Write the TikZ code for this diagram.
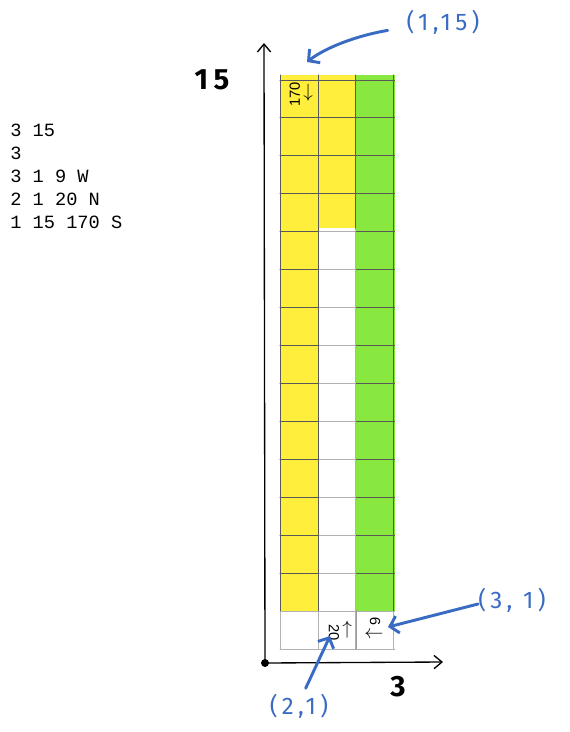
\documentclass[tikz,border=0pt]{standalone}
\usepackage{fontspec}
\setmainfont{Liberation Sans}
\newfontfamily\saisiefont{Liberation Mono}
\newfontfamily\mainfont{Fira Sans}[LetterSpace=18]
\usetikzlibrary{arrows.meta}

\definecolor{jaune}{HTML}{FFEE3B}
\definecolor{vert}{HTML}{88E840}
\definecolor{bleu}{HTML}{3A6BC2}

\begin{document}
\begin{tikzpicture}[line cap=round,line join=round,x=0.75pt,y=-0.75pt,
	axe/.style={line width=1pt,-{Straight Barb[length=6pt,width=10pt]}},
	fleche/.style={bleu,line width=2.2pt,-{Straight Barb[length=6pt,width=13pt]}},
	saisie/.style={font=\saisiefont\fontsize{14}{16}\selectfont,anchor=base west,inner sep=0pt},
	annot/.style={font=\mainfont\fontsize{18}{20}\selectfont,bleu,inner sep=0pt},
	taille/.style={font=\mainfont\bfseries\fontsize{22}{24}\selectfont,inner sep=0pt},
	clair/.style={black!30,line width=0.6pt},
	fonce/.style={black!65,line width=0.6pt},
	case/.style={font=\fontsize{11}{12}\selectfont,inner sep=0pt},
	sens/.style={font=\fontsize{15}{16}\selectfont,inner sep=0pt}]
	\useasboundingbox (0,0) rectangle (569,732);
	% donnees
	\node[saisie] (ligne1) at (10,136) {3 15};
	\node[saisie] (ligne2) at (10,159) {3};
	\node[saisie] (ligne3) at (10,182) {3 1 9 W};
	\node[saisie] (ligne4) at (10,205) {2 1 20 N};
	\node[saisie] (ligne5) at (10,228) {1 15 170 S};
	% grille
	\begin{scope}[shift={(280,649)},x=28.65pt,y=28.7pt]
		\fill[jaune] (0,1) rectangle (1,15);
		\fill[jaune] (1,11) rectangle (2,15);
		\fill[vert] (2,1) rectangle (3,15);
		\draw[clair] (0,0) grid (3,15);
		\draw[black!40,line width=1pt] (2,0) -- (2,1);
		\draw[fonce] (0,1) grid (1,15);
		\draw[fonce] (1,11) grid (2,15);
		\draw[fonce] (2,1) grid (3,15);
		%cases de depart
		\node[case,rotate=90] (n170) at (0.39,14.5) {170};
		\node[sens] (s170) at (0.74,14.55) {$\downarrow$};
		\node[case,rotate=-90] (n20) at (1.41,0.44) {20};
		\node[sens] (s20) at (1.76,0.5) {$\uparrow$};
		\node[case,rotate=90] (n9) at (2.49,0.72) {9};
		\node[sens] (s9) at (2.46,0.36) {$\leftarrow$};
	\end{scope}
	% axes
	\coordinate (O) at (265,663);
	\coordinate (yhaut) at (264,43);
	\coordinate (xdroite) at (443,662);
	\draw[axe] (O) -- (yhaut);
	\draw[axe] (O) -- (xdroite);
	\fill (O) circle (4);
	\node[taille] (t15) at (212,80) {15};
	\node[taille] (t3) at (398,687) {3};
	% annotations
	\node[annot] (a115) at (443,22) {(1,15)};
	\node[annot] (a31) at (512,600) {(3, 1)};
	\node[annot] (a21) at (299,706) {(2,1)};
	\coordinate (c115) at (307,62);
	\coordinate (c31) at (388,627);
	\coordinate (c21) at (330,636);
	\draw[fleche] ([xshift=-14pt,yshift=3pt]a115.south west) .. controls (355,36) and (325,48) .. (c115);
	\draw[fleche] ([yshift=-3pt]a31.west) -- (c31);
	\draw[fleche] ([xshift=5pt,yshift=4pt]a21.north) -- (c21);
\end{tikzpicture}
\end{document}
